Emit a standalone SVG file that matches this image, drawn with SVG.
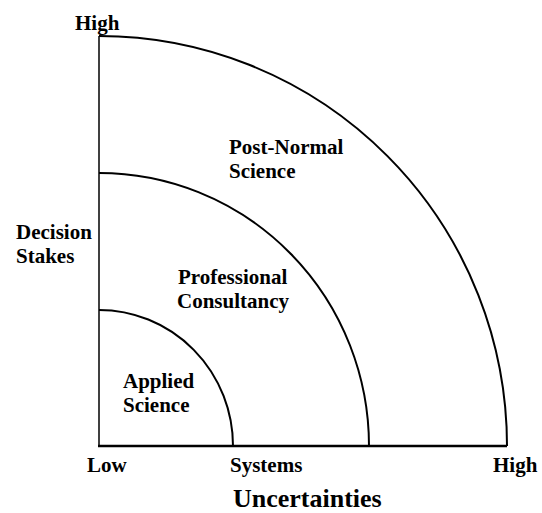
<svg xmlns="http://www.w3.org/2000/svg" width="542" height="513" viewBox="0 0 542 513">
<style>
text{font-family:"Liberation Serif","Times New Roman",serif;font-weight:bold;font-size:21px;fill:#000}
.big{font-size:26px}
.arc{fill:none;stroke:#000;stroke-width:2}
.ax{fill:none;stroke:#000}
</style>
<rect width="542" height="513" fill="#fff"/>
<g id="connectors">
<line class="ax" x1="99" y1="36" x2="99" y2="447" stroke-width="1.5"/>
<line class="ax" x1="98" y1="446" x2="507" y2="446" stroke-width="2.5"/>
</g>
<g id="applied-science">
<path class="arc" d="M99,310 A134,136 0 0 1 233,446"/>
<text x="123" y="388">Applied</text>
<text x="123" y="412">Science</text>
</g>
<g id="professional-consultancy">
<path class="arc" d="M99,173 A270,273 0 0 1 369,446"/>
<text x="178" y="284">Professional</text>
<text x="177" y="308">Consultancy</text>
</g>
<g id="post-normal-science">
<path class="arc" d="M99,36 A408,410 0 0 1 507,446"/>
<text x="229" y="154">Post-Normal</text>
<text x="229" y="178">Science</text>
</g>
<g id="labels">
<text x="75" y="30">High</text>
<text x="16" y="239">Decision</text>
<text x="16" y="263">Stakes</text>
<text x="87" y="472">Low</text>
<text x="230" y="472">Systems</text>
<text x="493" y="472">High</text>
<text class="big" x="233" y="507">Uncertainties</text>
</g>
</svg>
